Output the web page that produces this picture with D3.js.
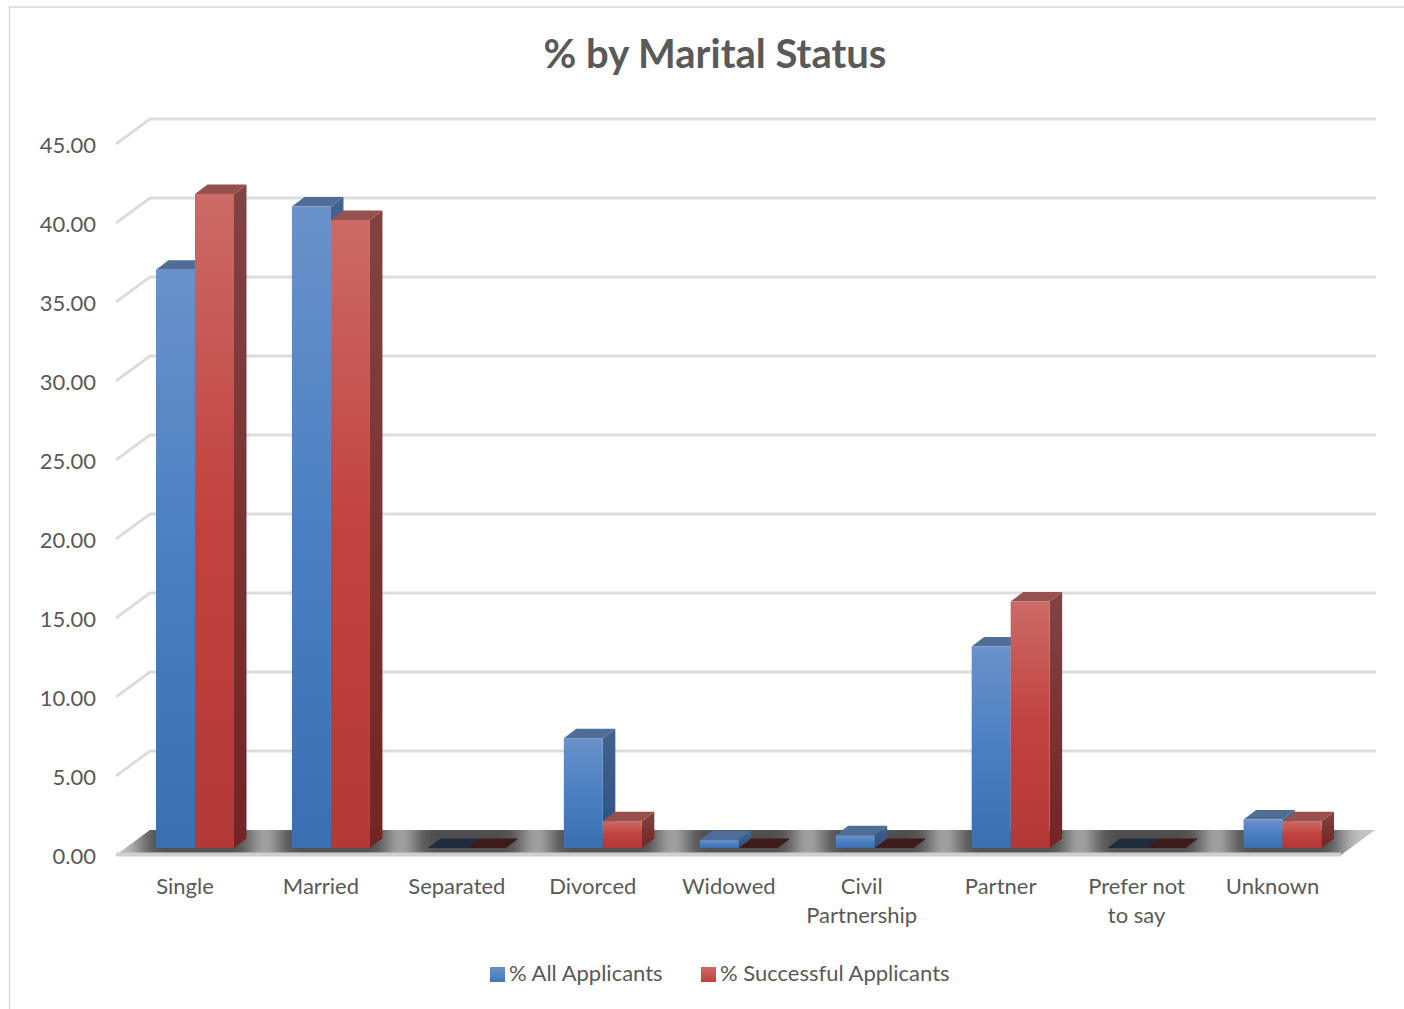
<!DOCTYPE html>
<html><head><meta charset="utf-8">
<script src="https://cdn.jsdelivr.net/npm/d3@7"></script>
<style>html,body{margin:0;padding:0;background:#fff}svg{display:block}text{font-family:Lato,sans-serif}</style>
</head><body><svg id="c" width="1404" height="1009"></svg>
<script>
const categories = ["Single","Married","Separated","Divorced","Widowed","Civil\nPartnership","Partner","Prefer not\nto say","Unknown"];
const allApplicants = [36.6,40.6,0,6.95,0.5,0.8,12.75,0,1.8];
const successfulApplicants = [41.4,39.75,0,1.7,0.03,0.03,15.6,0,1.7];
const seriesNames = ["% All Applicants","% Successful Applicants"];
const yTicks = [0,5,10,15,20,25,30,35,40,45];
const title = "% by Marital Status";

const svg=d3.select("#c");
const defs=svg.append("defs");
function grad(id,stops){
  const g=defs.append("linearGradient").attr("id",id).attr("x1",0).attr("y1",0).attr("x2",0).attr("y2",1);
  stops.forEach(([o,c])=>g.append("stop").attr("offset",o).attr("stop-color",c));
}
grad("bF",[[0,"#6a91ca"],[0.5,"#4a80c2"],[1,"#3a70b2"]]);
grad("rF",[[0,"#cb6a66"],[0.5,"#c2423f"],[1,"#b33937"]]);
grad("bS",[[0,"#43628f"],[1,"#2c5280"]]);
grad("rS",[[0,"#824341"],[1,"#742424"]]);
grad("lb",[[0,"#6a91ca"],[1,"#3f78bc"]]);
grad("lr",[[0,"#cb6a66"],[1,"#c0403d"]]);
defs.append("filter").attr("id","blur").attr("x","-30%").attr("y","-100%").attr("width","160%").attr("height","300%")
  .append("feGaussianBlur").attr("stdDeviation","11 4");

const DX=34,DY=-25;
const y=d3.scaleLinear().domain([0,45]).range([855,144]);
const band=d3.scaleBand().domain(categories).range([116,1339.5]);
const series=d3.scaleBand().domain(seriesNames).range([0,78]);
const barShift=40, barDx=12.5, barDy=-9.5, barBase=-7;

// frame
svg.append("path").attr("d",`M9.5 1009V7H1404`).attr("fill","none").attr("stroke","#d9d9d9").attr("stroke-width",1.5);

// title
svg.append("text").attr("x",715).attr("y",68).attr("text-anchor","middle")
  .attr("font-size",40).attr("font-weight",700).attr("fill","#595959").text(title);

// grid
const grid=svg.append("g").attr("fill","none").attr("stroke","#dcdcdc").attr("stroke-width",2.8);
yTicks.filter(t=>t>0).forEach(t=>{
  grid.append("path").attr("d",`M${116} ${y(t)}L${116+DX} ${y(t)+DY}H1376`);
});

// floor
const fx0=116,fx1=1341,fy=y(0);
const floorPts=`${fx0},${fy} ${fx0+DX},${fy+DY} ${fx1+DX},${fy+DY} ${fx1},${fy}`;
const clip=defs.append("clipPath").attr("id","fc");
clip.append("polygon").attr("points",floorPts);
svg.append("polygon").attr("points",floorPts).attr("fill","#c4c4c4");
const fl=svg.append("g").attr("clip-path","url(#fc)");
const sh=fl.append("g").attr("filter","url(#blur)");
categories.forEach(c=>{
  sh.append("rect").attr("x",band(c)+24).attr("y",fy+DY-8).attr("width",band.bandwidth()-22).attr("height",36).attr("fill","#505050");
});
svg.append("path").attr("d",`M${fx0} ${fy-0.5}H${fx1}`).attr("stroke","#cfcfcf").attr("stroke-width",4).attr("fill","none");

// bars
const rows=[{k:seriesNames[0],vals:allApplicants,f:"bF",s:"bS",t:"#4f6d97",flat:"#1f2c3e"},
            {k:seriesNames[1],vals:successfulApplicants,f:"rF",s:"rS",t:"#96504e",flat:"#3f1c1c"}];
const bw=series.bandwidth();
categories.forEach((c,i)=>{
  rows.forEach(r=>{
    const v=r.vals[i];
    const x0=band(c)+barShift+series(r.k), x1=x0+bw;
    const yb=y(0)+barBase, yt=y(v)+barBase;
    const g=svg.append("g");
    if(v<=0.05){
      g.append("polygon").attr("points",`${x0},${yb} ${x0+barDx},${yb+barDy} ${x1+barDx},${yb+barDy} ${x1},${yb}`).attr("fill",r.flat);
      return;
    }
    g.append("polygon").attr("points",`${x1},${yt} ${x1+barDx},${yt+barDy} ${x1+barDx},${yb+barDy} ${x1},${yb}`).attr("fill",`url(#${r.s})`);
    g.append("polygon").attr("points",`${x0},${yt} ${x0+barDx},${yt+barDy} ${x1+barDx},${yt+barDy} ${x1},${yt}`).attr("fill",r.t);
    g.append("rect").attr("x",x0).attr("y",yt).attr("width",bw).attr("height",yb-yt).attr("fill",`url(#${r.f})`);
  });
});

// y axis
const axis=svg.append("g").attr("transform","translate(96,1)")
  .call(d3.axisLeft(y).tickValues(yTicks).tickFormat(d3.format(".2f")).tickSize(0).tickPadding(0));
axis.select(".domain").remove();
axis.selectAll("text").attr("font-size",22).attr("fill","#595959").style("font-family","Lato,sans-serif");

// category labels
categories.forEach((c,i)=>{
  const t=svg.append("text").attr("text-anchor","middle").attr("font-size",22).attr("fill","#595959");
  const nudge=c.startsWith("Civil")?-3:0;
  c.split("\n").forEach((l,j)=>{
    t.append("tspan").attr("x",band(c)+band.bandwidth()/2+1+nudge).attr("y",893.5+j*29).text(l);
  });
});

// legend
const lx=[490,701], tx=[509,720];
rows.forEach((r,i)=>{
  svg.append("rect").attr("x",lx[i]).attr("y",967).attr("width",15).attr("height",15).attr("fill",i?"url(#lr)":"url(#lb)");
  svg.append("text").attr("x",tx[i]).attr("y",981).attr("font-size",22).attr("fill","#595959").text(r.k);
});
</script></body></html>
